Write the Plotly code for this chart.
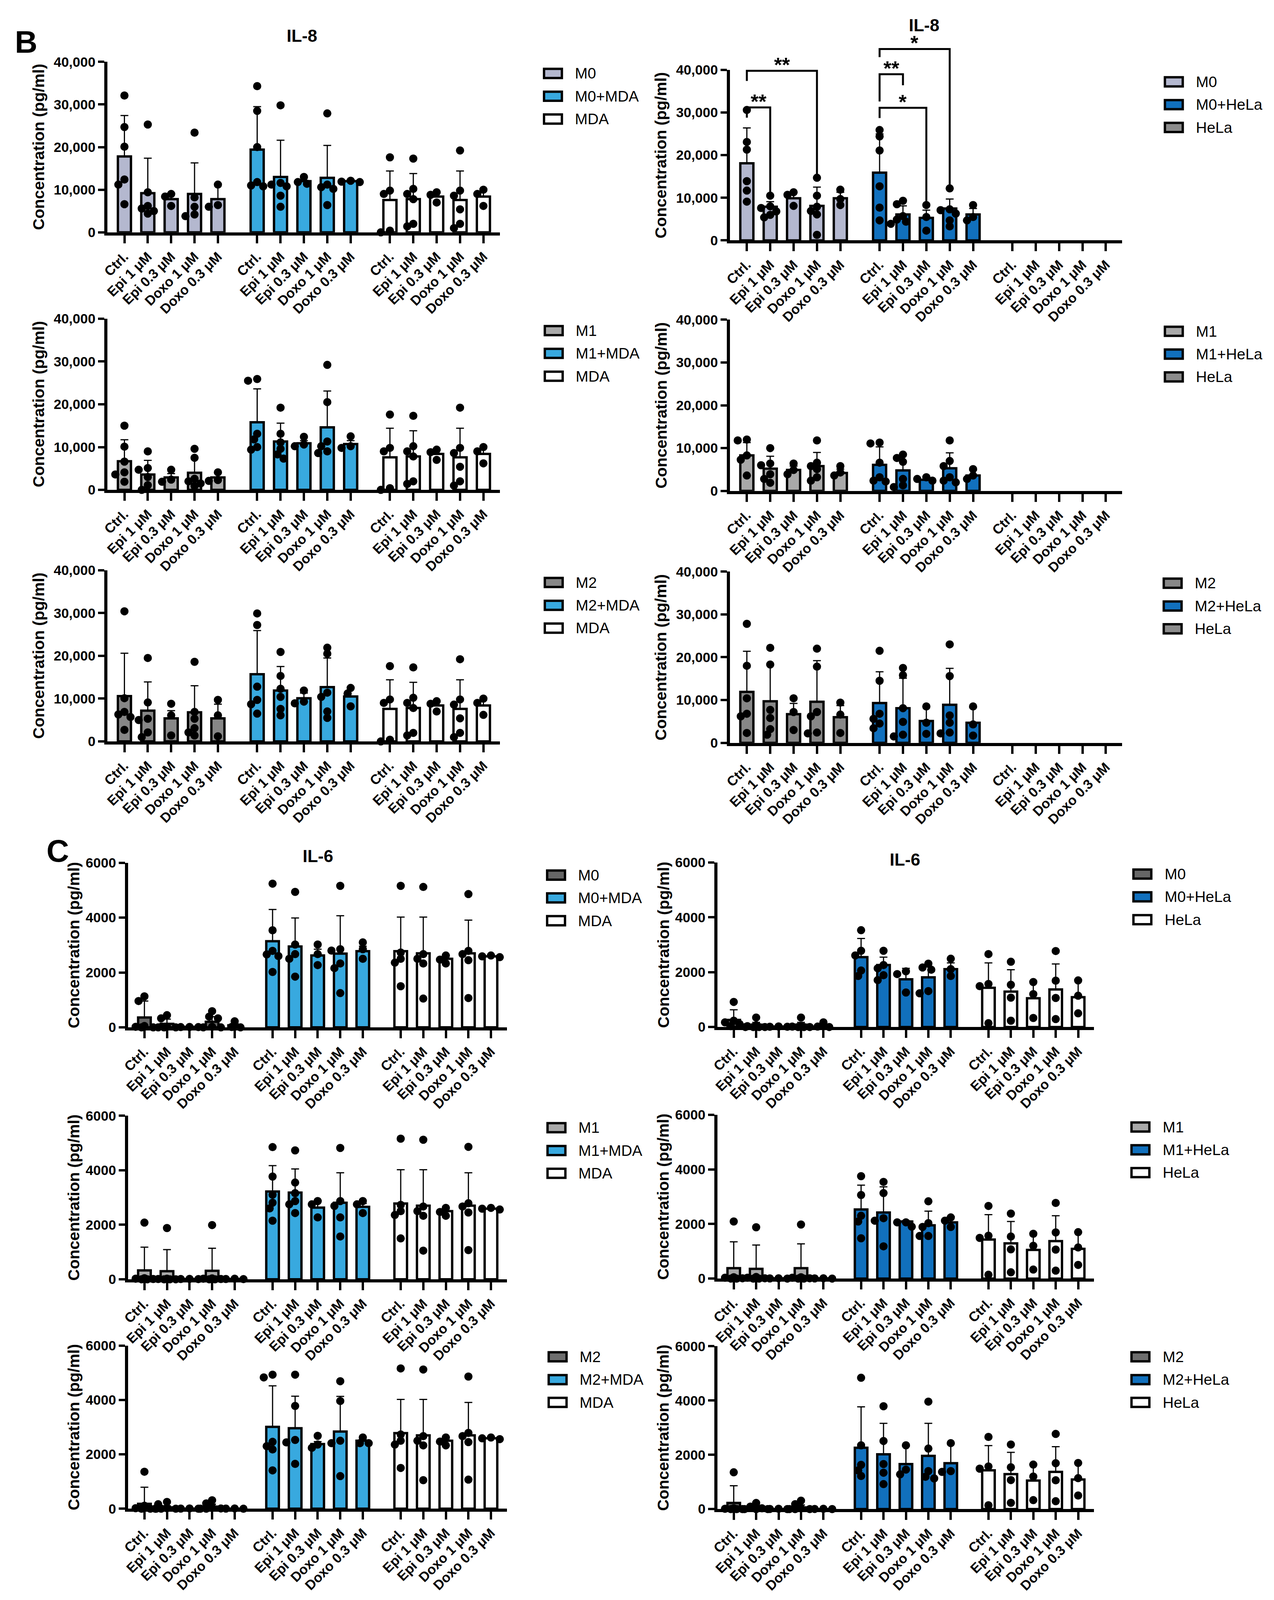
import math
import plotly.graph_objects as go

W, H = 3262, 4517

drugs = ["Ctrl.", "Epi 1 μM", "Epi 0.3 μM", "Doxo 1 μM", "Doxo 0.3 μM"]

# ---------------- B: IL-8, macrophages + MDA (left column) ----------------
b_m0_mean = [17800, 9200, 7800, 9000, 7800]
b_m0_sd = [9600, 8200, 1200, 7300, 3400]
b_m0_pts = [[32100, 24700, 20100, 12400, 11200, 6600], [25300, 9400, 6200, 5600, 5000, 4400],
            [9000, 8400, 6200], [23400, 8200, 6000, 4200, 3800], [11200, 6400, 6000]]

b_m0mda_mean = [19400, 13000, 12000, 12800, 12000]
b_m0mda_sd = [10100, 8600, 800, 7600, 400]
b_m0mda_pts = [[34300, 28500, 20000, 11800, 11000, 10800], [29800, 11600, 11200, 10800, 8600, 6000],
               [13000, 11800, 11400], [27900, 11200, 10600, 10200, 6400], [12100, 11900, 11800]]

b_mda_mean = [7600, 7800, 8400, 7600, 8400]
b_mda_sd = [6800, 6000, 1000, 6800, 1800]
b_mda_pts = [[17600, 9800, 9000, 400, 0], [17300, 10200, 9000, 7800, 2000, 1400],
             [9400, 8800, 7000], [19200, 9800, 8600, 5400, 2000, 1000], [10000, 9000, 6200]]

b_m1_mean = [6700, 3600, 2900, 4000, 2900]
b_m1_sd = [5000, 3300, 900, 3500, 1000]
b_m1_pts = [[15000, 10100, 6600, 4100, 3600, 1900], [9000, 5100, 4700, 3000, 1100, 0],
            [4700, 2400, 1900], [9600, 7500, 2600, 2000, 1500, 900], [4100, 2300, 2100]]

b_m1mda_mean = [15800, 11300, 10900, 14600, 10700]
b_m1mda_sd = [7800, 4300, 600, 8500, 800]
b_m1mda_pts = [[25900, 25500, 13100, 11800, 10000, 9400], [19200, 13100, 11100, 9600, 8300, 7300],
               [12400, 10600, 10200], [29200, 20500, 11300, 10200, 9000, 8600], [12500, 10200, 9800]]

b_m2_mean = [10600, 7200, 5400, 6800, 5400]
b_m2_sd = [10000, 6700, 1800, 6200, 3300]
b_m2_pts = [[30400, 10100, 6900, 6300, 5700, 2700], [19500, 9100, 5300, 5000, 2100, 1000],
            [8800, 6100, 1400], [18600, 6900, 5300, 3100, 2100, 1400], [9700, 6100, 1200]]

b_m2mda_mean = [15700, 11900, 10100, 12700, 10500]
b_m2mda_sd = [10200, 5600, 1200, 6800, 2200]
b_m2mda_pts = [[29900, 27200, 12800, 9700, 8700, 6500], [20900, 15300, 12300, 10400, 7600, 6100],
               [11900, 9300, 8900], [21900, 20500, 11400, 10400, 7000, 5500], [12500, 11200, 8200]]

# ---------------- B: IL-8, macrophages + HeLa (right column) ----------------
b_h_m0_mean = [18100, 7900, 9900, 8100, 9900]
b_h_m0_sd = [8300, 1200, 1400, 4400, 1400]
b_h_m0_pts = [[30600, 23100, 21300, 13900, 11700, 9100], [10500, 8000, 7600, 6800, 6000, 5400],
              [11300, 10700, 8100], [14700, 10500, 7900, 6900, 6100, 1300], [11900, 9700, 8300]]

b_h_m0hela_mean = [15900, 6100, 5300, 7500, 6100]
b_h_m0hela_sd = [9100, 2000, 1800, 2200, 1400]
b_h_m0hela_pts = [[25900, 24400, 21100, 12700, 7700, 4700], [9300, 8500, 5700, 4900, 4400, 3900],
                  [8300, 5500, 2300], [12200, 7300, 7100, 6300, 4700, 3300], [8300, 5500, 4700]]

b_h_m1_mean = [8300, 5200, 4900, 5800, 4200]
b_h_m1_sd = [3000, 2900, 900, 3200, 900]
b_h_m1_pts = [[12000, 11800, 8300, 7300, 3600], [10000, 6400, 6000, 3900, 2800, 1900],
              [6400, 4900, 3900], [11800, 6600, 5800, 5100, 3200, 2400], [5800, 4300, 3600]]

b_h_m1hela_mean = [6100, 4800, 2600, 5300, 3600]
b_h_m1hela_sd = [4200, 2200, 600, 3600, 1300]
b_h_m1hela_pts = [[11300, 11100, 6600, 3200, 2400, 2200], [8500, 7700, 6800, 2800, 1300, 900],
                  [3200, 2800, 2400], [11800, 7000, 5800, 3200, 2400, 2000], [5100, 3600, 2800]]

b_h_m2_mean = [11900, 9700, 6700, 9600, 6000]
b_h_m2_sd = [9500, 8800, 2500, 9600, 2700]
b_h_m2_pts = [[27800, 18000, 10400, 6800, 6200, 2300], [22200, 18300, 7700, 5800, 3200, 1900],
              [10400, 7200, 3000], [22000, 17800, 7200, 6200, 2400, 2200], [9400, 6600, 2300]]

b_h_m2hela_mean = [9300, 8100, 5100, 8900, 4700]
b_h_m2hela_sd = [7300, 7000, 3400, 8500, 3600]
b_h_m2hela_pts = [[21500, 14500, 6800, 5600, 4500, 3400], [17500, 15800, 8100, 4900, 1900, 1500],
                  [8500, 4700, 2100], [23000, 15600, 6400, 4700, 2400, 2200], [8500, 4300, 1700]]

# significance brackets on the M0 / HeLa IL-8 panel (bar index = group*5 + drug)
sig_from = [0, 0, 5, 5, 5]
sig_to = [1, 3, 6, 7, 8]
sig_top = [31200, 39800, 39000, 31100, 44900]
sig_left_end = [28800, 37400, 32600, 28700, 43000]
sig_right_end = [10900, 14900, 36400, 8700, 12300]
sig_text = ["**", "**", "**", "*", "*"]

# ---------------- C: IL-6, macrophages + MDA (left column) ----------------
c_m0_mean = [360, 130, 20, 205, 75]
c_m0_sd = [600, 170, 0, 185, 65]
c_m0_pts = [[1130, 960, 50, 20, 0, 0], [445, 330, 20, 0, 0, 0], [15, 10, 10],
            [590, 390, 330, 20, 0, 0], [220, 15, 0]]

c_m0mda_mean = [3140, 2950, 2620, 2690, 2780]
c_m0mda_sd = [1160, 1040, 230, 1380, 180]
c_m0mda_pts = [[5240, 3540, 2790, 2660, 2600, 2020], [4940, 3020, 2670, 2500, 1850],
               [3020, 2670, 2270], [5160, 2850, 2800, 2330, 2160, 1250], [3100, 2850, 2500]]

c_mda_mean = [2780, 2700, 2500, 2700, 2590]
c_mda_sd = [1240, 1320, 120, 1210, 30]
c_mda_pts = [[5160, 2730, 2500, 2360, 1500], [5120, 2670, 2500, 2330, 1050],
             [2620, 2470, 2330], [4860, 2790, 2670, 2450, 1070], [2620, 2590, 2560]]

c_m1_mean = [325, 295, 10, 310, 15]
c_m1_sd = [855, 795, 0, 830, 0]
c_m1_pts = [[2080, 40, 20, 10, 0, 0], [1880, 20, 10, 0, 0, 0], [15, 10, 5],
            [1990, 30, 20, 10, 0, 0], [20, 10, 5]]

c_m1mda_mean = [3220, 3180, 2630, 2810, 2660]
c_m1mda_sd = [950, 870, 240, 1100, 120]
c_m1mda_pts = [[4850, 3770, 3100, 2810, 2600, 2150], [4730, 3550, 3160, 2870, 2750, 2430],
               [2870, 2750, 2270], [4820, 2870, 2690, 2270, 1570], [2870, 2750, 2430]]

c_m2_mean = [180, 50, 0, 75, 0]
c_m2_sd = [610, 60, 0, 90, 0]
c_m2_pts = [[1360, 110, 20, 0, 0, 0], [250, 165, 20, 0, 0, 0], [10, 5, 0],
            [310, 195, 50, 10, 0, 0], [10, 5, 0]]

c_m2mda_mean = [3010, 2960, 2380, 2840, 2500]
c_m2mda_sd = [1510, 1180, 90, 1290, 30]
c_m2mda_pts = [[4930, 4830, 2460, 2300, 2180, 1410], [4930, 3780, 2530, 2440, 1650],
               [2680, 2360, 2240], [4690, 3960, 2500, 2410, 1200], [2620, 2410, 2410]]

# ---------------- C: IL-6, macrophages + HeLa (right column) ----------------
c_h_m0_mean = [260, 85, 15, 85, 40]
c_h_m0_sd = [370, 85, 0, 85, 0]
c_h_m0_pts = [[915, 230, 170, 110, 30, 0], [345, 60, 30, 0, 0, 0], [20, 10, 10],
              [345, 30, 15, 0, 0, 0], [170, 15, 0]]

c_h_m0hela_mean = [2550, 2260, 1740, 1810, 2110]
c_h_m0hela_sd = [680, 290, 400, 390, 230]
c_h_m0hela_pts = [[3530, 2780, 2610, 2060, 1860], [2780, 2260, 2140, 1890, 1710],
                  [2030, 1930, 1260], [2310, 2170, 2090, 1310, 1230], [2490, 2110, 1860]]

c_hela_mean = [1430, 1290, 1050, 1370, 1090]
c_hela_sd = [910, 800, 620, 930, 620]
c_hela_pts = [[2660, 1570, 1490, 140], [2380, 1540, 1070, 230], [1640, 1200, 330],
              [2770, 1690, 1060, 290], [1700, 1140, 500]]

c_h_m1_mean = [380, 355, 10, 380, 10]
c_h_m1_sd = [965, 875, 0, 890, 0]
c_h_m1_pts = [[2090, 50, 30, 10, 0, 0], [1880, 60, 30, 10, 0, 0], [10, 5, 0],
              [1980, 50, 30, 10, 0, 0], [10, 5, 0]]

c_h_m1hela_mean = [2530, 2420, 2090, 1950, 2060]
c_h_m1hela_sd = [890, 940, 30, 520, 210]
c_h_m1hela_pts = [[3750, 3060, 2300, 2090, 1475], [3540, 3130, 2210, 2120, 1180],
                  [2060, 2060, 1900], [2830, 2030, 1890, 1560, 1560], [2240, 2120, 1890]]

c_h_m2_mean = [225, 60, 0, 60, 0]
c_h_m2_sd = [635, 0, 0, 90, 0]
c_h_m2_pts = [[1355, 30, 10, 0, 0, 0], [225, 90, 30, 0, 0, 0], [10, 5, 0],
              [310, 180, 30, 0, 0, 0], [10, 5, 0]]

c_h_m2hela_mean = [2260, 2020, 1660, 1960, 1690]
c_h_m2hela_sd = [1510, 1140, 660, 1200, 740]
c_h_m2hela_pts = [[4840, 2350, 1630, 1425, 1220], [3790, 2510, 1660, 1340, 920],
                  [2350, 1455, 1280], [3960, 2230, 1400, 1190, 1130], [2430, 1400, 1370]]

# ---------------- styling ----------------
C_M0B = "#b4b8cf"
C_M1 = "#a9a9a9"
C_M2B = "#878787"
C_M0C = "#666666"
C_M2C = "#6e6e6e"
C_MDA = "#38a9df"
C_HELA = "#1170bd"
C_HELA_GREY = "#8c8c8c"

FONT = "Liberation Sans, Arial, sans-serif"
STRIDE = 5.68
XR = [-0.72, 16.06]
EMPTY = ([], [], [])

# box = (x_left, x_right, y_top, y_bottom) in page pixels, legend = (box x, first entry y)
panels = [
    dict(box=(258, 1268, 154, 640), leg=(1382, 187), ymax=40000,
         series=[("M0", C_M0B, (b_m0_mean, b_m0_sd, b_m0_pts)),
                 ("M0+MDA", C_MDA, (b_m0mda_mean, b_m0mda_sd, b_m0mda_pts)),
                 ("MDA", "white", (b_mda_mean, b_mda_sd, b_mda_pts))]),
    dict(box=(1861, 2871, 177, 663), leg=(2981, 211), ymax=40000,
         series=[("M0", C_M0B, (b_h_m0_mean, b_h_m0_sd, b_h_m0_pts)),
                 ("M0+HeLa", C_HELA, (b_h_m0hela_mean, b_h_m0hela_sd, b_h_m0hela_pts)),
                 ("HeLa", C_HELA_GREY, EMPTY)]),
    dict(box=(258, 1268, 886, 1374), leg=(1384, 920), ymax=40000,
         series=[("M1", C_M1, (b_m1_mean, b_m1_sd, b_m1_pts)),
                 ("M1+MDA", C_MDA, (b_m1mda_mean, b_m1mda_sd, b_m1mda_pts)),
                 ("MDA", "white", (b_mda_mean, b_mda_sd, b_mda_pts))]),
    dict(box=(1861, 2871, 889, 1377), leg=(2981, 922), ymax=40000,
         series=[("M1", C_M1, (b_h_m1_mean, b_h_m1_sd, b_h_m1_pts)),
                 ("M1+HeLa", C_HELA, (b_h_m1hela_mean, b_h_m1hela_sd, b_h_m1hela_pts)),
                 ("HeLa", C_HELA_GREY, EMPTY)]),
    dict(box=(258, 1268, 1603, 2091), leg=(1384, 1638), ymax=40000,
         series=[("M2", C_M2B, (b_m2_mean, b_m2_sd, b_m2_pts)),
                 ("M2+MDA", C_MDA, (b_m2mda_mean, b_m2mda_sd, b_m2mda_pts)),
                 ("MDA", "white", (b_mda_mean, b_mda_sd, b_mda_pts))]),
    dict(box=(1861, 2871, 1607, 2095), leg=(2978, 1640), ymax=40000,
         series=[("M2", C_M2B, (b_h_m2_mean, b_h_m2_sd, b_h_m2_pts)),
                 ("M2+HeLa", C_HELA, (b_h_m2hela_mean, b_h_m2hela_sd, b_h_m2hela_pts)),
                 ("HeLa", C_HELA_GREY, EMPTY)]),
    dict(box=(311, 1286, 2437, 2906), leg=(1390, 2472), ymax=6000,
         series=[("M0", C_M0C, (c_m0_mean, c_m0_sd, c_m0_pts)),
                 ("M0+MDA", C_MDA, (c_m0mda_mean, c_m0mda_sd, c_m0mda_pts)),
                 ("MDA", "white", (c_mda_mean, c_mda_sd, c_mda_pts))]),
    dict(box=(1829, 2798, 2436, 2905), leg=(2900, 2469), ymax=6000,
         series=[("M0", C_M0C, (c_h_m0_mean, c_h_m0_sd, c_h_m0_pts)),
                 ("M0+HeLa", C_HELA, (c_h_m0hela_mean, c_h_m0hela_sd, c_h_m0hela_pts)),
                 ("HeLa", "white", (c_hela_mean, c_hela_sd, c_hela_pts))]),
    dict(box=(311, 1286, 3158, 3624), leg=(1391, 3192), ymax=6000,
         series=[("M1", C_M1, (c_m1_mean, c_m1_sd, c_m1_pts)),
                 ("M1+MDA", C_MDA, (c_m1mda_mean, c_m1mda_sd, c_m1mda_pts)),
                 ("MDA", "white", (c_mda_mean, c_mda_sd, c_mda_pts))]),
    dict(box=(1829, 2798, 3155, 3622), leg=(2895, 3190), ymax=6000,
         series=[("M1", C_M1, (c_h_m1_mean, c_h_m1_sd, c_h_m1_pts)),
                 ("M1+HeLa", C_HELA, (c_h_m1hela_mean, c_h_m1hela_sd, c_h_m1hela_pts)),
                 ("HeLa", "white", (c_hela_mean, c_hela_sd, c_hela_pts))]),
    dict(box=(311, 1286, 3813, 4278), leg=(1394, 3845), ymax=6000,
         series=[("M2", C_M2C, (c_m2_mean, c_m2_sd, c_m2_pts)),
                 ("M2+MDA", C_MDA, (c_m2mda_mean, c_m2mda_sd, c_m2mda_pts)),
                 ("MDA", "white", (c_mda_mean, c_mda_sd, c_mda_pts))]),
    dict(box=(1829, 2798, 3815, 4279), leg=(2895, 3845), ymax=6000,
         series=[("M2", C_M2C, (c_h_m2_mean, c_h_m2_sd, c_h_m2_pts)),
                 ("M2+HeLa", C_HELA, (c_h_m2hela_mean, c_h_m2hela_sd, c_h_m2hela_pts)),
                 ("HeLa", "white", (c_hela_mean, c_hela_sd, c_hela_pts))]),
]


def px_x(v):
    return v / W


def px_y(v):
    return 1 - v / H


def bar_pos(idx):
    return (idx // 5) * STRIDE + idx % 5


def swarm(vals, ppx, ppy, step=0.13, diam=17):
    # spread overlapping dots sideways, largest values first
    placed, offs = [], []
    for v in vals:
        best, best_d = 0.0, -1
        for k in (0, -1, 1, -2, 2, -3, 3, -4, 4):
            dx = k * step
            d = min([math.hypot((dx - ox) * ppx, (v - oy) * ppy) for ox, oy in placed] or [1e9])
            if d >= diam:
                best = dx
                break
            if d > best_d:
                best, best_d = dx, d
        placed.append((best, v))
        offs.append(best)
    return offs


fig = go.Figure()
shapes, annotations = [], []
layout_axes = {}
tick_pos = [bar_pos(i) for i in range(15)]

for k, p in enumerate(panels, start=1):
    x0, x1, yt, yb = p["box"]
    xs = "x" if k == 1 else "x%d" % k
    ys = "y" if k == 1 else "y%d" % k
    ymax = p["ymax"]
    ppx = (x1 - x0) / (XR[1] - XR[0])
    ppy = (yb - yt) / ymax

    for g, (name, color, (mean, sd, pts)) in enumerate(p["series"]):
        if not mean:
            continue
        xpos = [bar_pos(g * 5 + i) for i in range(5)]
        fig.add_trace(go.Bar(
            x=xpos, y=mean, width=0.56, xaxis=xs, yaxis=ys, showlegend=False,
            marker=dict(color=color, line=dict(color="black", width=6)),
            error_y=dict(type="data", array=sd, arrayminus=[0] * 5, symmetric=False,
                         color="black", thickness=3, width=10),
        ))
        px, py = [], []
        for i, vals in enumerate(pts):
            offs = swarm(vals, ppx, ppy)
            px += [xpos[i] + o for o in offs]
            py += vals
        fig.add_trace(go.Scatter(
            x=px, y=py, mode="markers", xaxis=xs, yaxis=ys, showlegend=False,
            cliponaxis=False, marker=dict(color="black", size=21),
        ))

    b_sec = ymax == 40000
    layout_axes["xaxis" if k == 1 else "xaxis%d" % k] = dict(
        domain=[px_x(x0), px_x(x1)], anchor=ys, range=XR,
        tickmode="array", tickvals=tick_pos, ticktext=drugs * 3, tickangle=-45,
        ticks="outside", ticklen=20, tickwidth=6, tickcolor="black",
        showline=True, linewidth=8, linecolor="black", showgrid=False, zeroline=False,
        tickfont=dict(family=FONT, size=35, color="black", weight="bold"),
    )
    layout_axes["yaxis" if k == 1 else "yaxis%d" % k] = dict(
        domain=[px_y(yb), px_y(yt)], anchor=xs, range=[0, ymax],
        tickmode="array", tickvals=list(range(0, ymax + 1, ymax // (4 if b_sec else 3))),
        tickformat="," if b_sec else "d",
        ticks="outside", ticklen=16, tickwidth=6, tickcolor="black",
        showline=True, linewidth=8, linecolor="black", showgrid=False, zeroline=False,
        tickfont=dict(family=FONT, size=35, color="black", weight="bold"),
    )

    # y-axis title
    ytx = x0 - (178 if b_sec else 140)
    annotations.append(dict(
        text="Concentration (pg/ml)", x=px_x(ytx), y=px_y((yt + yb) / 2),
        xref="paper", yref="paper", textangle=-90, showarrow=False,
        xanchor="center", yanchor="middle",
        font=dict(family=FONT, size=41, color="black", weight="bold"),
    ))

    # hand-drawn legend boxes, GraphPad style
    lx, ly = p["leg"]
    for g, (name, color, _) in enumerate(p["series"]):
        cy = ly + g * 65
        shapes.append(dict(type="rect", xref="paper", yref="paper",
                           x0=px_x(lx), x1=px_x(lx + 46), y0=px_y(cy + 13), y1=px_y(cy - 13),
                           fillcolor=color, line=dict(color="black", width=6)))
        annotations.append(dict(text=name, x=px_x(lx + 78), y=px_y(cy), xref="paper", yref="paper",
                                xanchor="left", yanchor="middle", showarrow=False,
                                font=dict(family=FONT, size=39, color="black")))

# panel titles and section letters
for txt, cx, cy in [("IL-8", 758, 80), ("IL-8", 2361, 50), ("IL-6", 800, 2418), ("IL-6", 2311, 2428)]:
    annotations.append(dict(text=txt, x=px_x(cx), y=px_y(cy), xref="paper", yref="paper",
                            showarrow=False, xanchor="center", yanchor="middle",
                            font=dict(family=FONT, size=44, color="black", weight="bold")))
for txt, cx, cy in [("B", 48, 97), ("C", 130, 2403)]:
    annotations.append(dict(text=txt, x=px_x(cx), y=px_y(cy), xref="paper", yref="paper",
                            showarrow=False, xanchor="center", yanchor="middle",
                            font=dict(family=FONT, size=80, color="black", weight="bold")))

# significance brackets (IL-8, M0 / HeLa panel = axes 2)
for a, b, top, le, re, txt in zip(sig_from, sig_to, sig_top, sig_left_end, sig_right_end, sig_text):
    xa, xb = bar_pos(a), bar_pos(b)
    path = "M %f,%f L %f,%f L %f,%f L %f,%f" % (xa, le / 40000, xa, top / 40000,
                                                 xb, top / 40000, xb, re / 40000)
    shapes.append(dict(type="path", xref="x2", yref="y2 domain", path=path,
                       line=dict(color="black", width=5)))
    annotations.append(dict(text=txt, x=(xa + xb) / 2, y=(top + 1400) / 40000,
                            xref="x2", yref="y2 domain", showarrow=False,
                            xanchor="center", yanchor="middle",
                            font=dict(family=FONT, size=52, color="black", weight="bold")))

# the figure fills the whole browser viewport, so nothing falls off the page
fig.update_layout(
    autosize=True, margin=dict(l=0, r=0, t=0, b=0),
    paper_bgcolor="white", plot_bgcolor="white", barmode="overlay",
    showlegend=False, shapes=shapes, annotations=annotations, **layout_axes,
)

fit_page = ("document.body.style.margin='0px';document.body.style.overflow='hidden';"
            "Plotly.Plots.resize(document.getElementById('{plot_id}'));")
fig.write_html("out.html", default_width="100%", default_height="100vh",
               config={"responsive": True, "displayModeBar": False}, post_script=fit_page)
